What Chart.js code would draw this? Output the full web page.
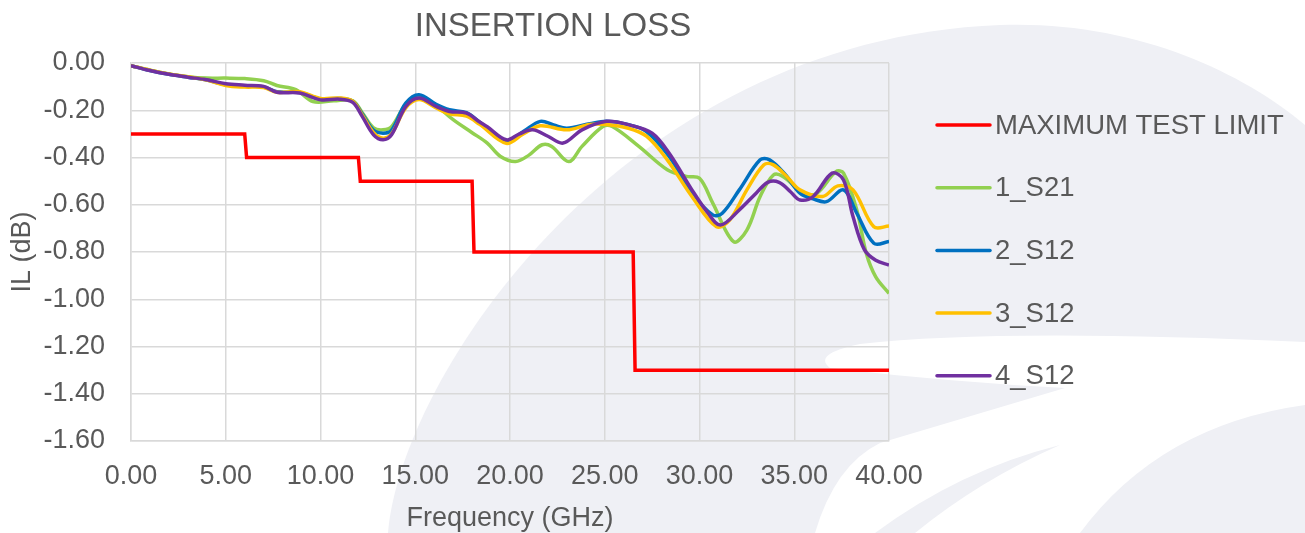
<!DOCTYPE html>
<html>
<head>
<meta charset="utf-8">
<script src="https://cdn.jsdelivr.net/npm/chart.js@4.4.1/dist/chart.umd.min.js"></script>
<style>
  html, body { margin: 0; padding: 0; background: #ffffff; }
  #wrap { width: 1305px; height: 533px; position: relative; }
</style>
</head>
<body>
<div id="wrap"><canvas id="ilChart" width="1305" height="533"></canvas></div>
<script>
'use strict';

// Chart title and series labels
const chartTitle = 'INSERTION LOSS';
const seriesLabels = ['MAXIMUM TEST LIMIT', '1_S21', '2_S12', '3_S12', '4_S12'];

// Test limit (GHz / dB)
const limitFreq = [0, 6.0, 6.1, 12.0, 12.1, 18.0, 18.1, 26.5, 26.6, 40];
const limitIL = [-0.30, -0.30, -0.40, -0.40, -0.50, -0.50, -0.80, -0.80, -1.30, -1.30];

// 1_S21
const s21Freq = [0, 1, 2, 3, 4, 5, 6, 7, 7.7, 8.7, 9.6, 10.7, 11.7, 12.2, 12.8, 13.3, 13.75, 14.5, 15.2, 16.1, 17.0, 18.0, 18.8, 19.5, 20.3, 21.0, 21.7, 22.2, 23.1, 23.8, 24.9, 25.4, 26.8, 28.3, 29.3, 30.0, 30.7, 31.8, 32.5, 33.2, 33.9, 34.4, 35.5, 36.2, 37.2, 37.6, 38.3, 38.8, 39.3, 40];
const s21IL = [-0.011, -0.030, -0.046, -0.058, -0.064, -0.064, -0.066, -0.075, -0.095, -0.113, -0.163, -0.160, -0.160, -0.210, -0.275, -0.283, -0.270, -0.175, -0.140, -0.180, -0.240, -0.295, -0.339, -0.396, -0.417, -0.390, -0.346, -0.353, -0.417, -0.353, -0.269, -0.269, -0.353, -0.452, -0.480, -0.488, -0.593, -0.756, -0.707, -0.565, -0.474, -0.480, -0.551, -0.551, -0.460, -0.466, -0.622, -0.805, -0.905, -0.975];

// 2_S12
const s12aFreq = [0, 1, 2, 3, 4, 5, 6, 7, 7.7, 8.9, 10, 11, 11.7, 12.2, 12.8, 13.3, 13.75, 14.5, 15.2, 16.1, 16.8, 17.7, 18.4, 19.8, 20.7, 21.6, 22.3, 23.0, 24.2, 25.1, 26.2, 27.2, 28.4, 29.6, 30.7, 31.2, 32.1, 33.2, 33.7, 34.5, 35.3, 36.0, 36.7, 37.6, 38.3, 39.2, 40];
const s12aIL = [-0.011, -0.032, -0.048, -0.060, -0.072, -0.092, -0.098, -0.102, -0.122, -0.125, -0.152, -0.150, -0.162, -0.215, -0.285, -0.297, -0.285, -0.170, -0.134, -0.175, -0.198, -0.210, -0.250, -0.330, -0.290, -0.247, -0.262, -0.276, -0.257, -0.247, -0.260, -0.290, -0.396, -0.550, -0.643, -0.636, -0.537, -0.410, -0.410, -0.470, -0.551, -0.575, -0.587, -0.537, -0.636, -0.763, -0.756];

// 3_S12
const s12bFreq = [0, 1, 2, 3, 4, 5, 6, 7, 7.7, 8.9, 10, 11, 11.7, 12.2, 12.8, 13.3, 13.75, 14.5, 15.2, 16.1, 16.8, 17.7, 18.4, 19.8, 20.7, 21.6, 23.0, 24.2, 25.1, 26.2, 27.2, 28.3, 29.6, 30.9, 31.6, 32.5, 33.4, 33.9, 34.6, 35.3, 36.5, 37.3, 38.1, 39.2, 40];
const s12bIL = [-0.011, -0.030, -0.046, -0.058, -0.072, -0.095, -0.102, -0.104, -0.124, -0.122, -0.150, -0.148, -0.162, -0.220, -0.295, -0.318, -0.300, -0.190, -0.155, -0.190, -0.215, -0.225, -0.260, -0.340, -0.300, -0.266, -0.283, -0.260, -0.260, -0.275, -0.310, -0.410, -0.565, -0.693, -0.664, -0.537, -0.431, -0.431, -0.480, -0.537, -0.565, -0.520, -0.537, -0.693, -0.690];

// 4_S12
const s12cFreq = [0, 1, 2, 3, 4, 5, 6, 7, 7.7, 8.9, 10, 11, 11.7, 12.2, 12.8, 13.3, 13.75, 14.5, 15.2, 16.1, 16.8, 17.7, 18.4, 18.8, 19.8, 20.5, 21.2, 22.0, 22.8, 23.8, 25.1, 26.3, 27.5, 28.4, 29.6, 30.4, 31.1, 32.1, 33.0, 33.6, 34.2, 34.8, 35.3, 36.0, 37.0, 37.6, 38.1, 38.7, 39.3, 40];
const s12cIL = [-0.011, -0.032, -0.048, -0.060, -0.071, -0.088, -0.094, -0.099, -0.124, -0.127, -0.156, -0.153, -0.167, -0.226, -0.304, -0.325, -0.304, -0.184, -0.148, -0.184, -0.205, -0.212, -0.250, -0.270, -0.325, -0.300, -0.283, -0.310, -0.339, -0.283, -0.247, -0.262, -0.297, -0.382, -0.537, -0.630, -0.686, -0.622, -0.550, -0.505, -0.505, -0.545, -0.580, -0.565, -0.466, -0.495, -0.650, -0.790, -0.835, -0.855];

// Axis ticks
const xTicks = [0, 5, 10, 15, 20, 25, 30, 35, 40];
const yTicks = [0, -0.2, -0.4, -0.6, -0.8, -1.0, -1.2, -1.4, -1.6];

(function () {
    const redColor = '#FF0000',
        greenColor = '#92D050',
        blueColor = '#0070C0',
        yellowColor = '#FFC000',
        purpleColor = '#7030A0',
        textColor = '#595959',
        gridColor = '#D9D9D9',
        markColor = '#EFF0F5';

    const fontFamily = '"Liberation Sans", Arial, sans-serif';

    function toPoints(xs, ys) {
        return xs.map(function (x, i) { return { x: x, y: ys[i] }; });
    }

    // light watermark behind the chart
    const watermark = {
        id: 'watermark',
        beforeDraw(chart) {
            const ctx = chart.ctx;
            ctx.save();
            ctx.fillStyle = '#ffffff';
            ctx.fillRect(0, 0, chart.width, chart.height);
            ctx.fillStyle = markColor;
            ctx.beginPath();
            ctx.moveTo(388, 533);
            ctx.bezierCurveTo(400, 380, 620, 40, 1000, 25);
            ctx.bezierCurveTo(1130, 20, 1240, 70, 1305, 125);
            ctx.lineTo(1305, 533);
            ctx.closePath();
            ctx.fill();

            // white swoosh cut through the lower right
            ctx.fillStyle = '#ffffff';
            ctx.beginPath();
            ctx.moveTo(1305, 342);
            ctx.quadraticCurveTo(1000, 328, 860, 344);
            ctx.quadraticCurveTo(812, 354, 830, 368);
            ctx.quadraticCurveTo(950, 382, 1065, 388);
            ctx.lineTo(880, 443);
            ctx.quadraticCurveTo(835, 465, 815, 533);
            ctx.lineTo(1080, 533);
            ctx.quadraticCurveTo(1160, 425, 1305, 405);
            ctx.closePath();
            ctx.fill();

            // thin grey sliver inside the swoosh
            ctx.fillStyle = markColor;
            ctx.beginPath();
            ctx.moveTo(1060, 445);
            ctx.quadraticCurveTo(960, 470, 875, 533);
            ctx.lineTo(915, 533);
            ctx.quadraticCurveTo(980, 480, 1060, 445);
            ctx.closePath();
            ctx.fill();
            ctx.restore();
        }
    };

    // title and legend drawn around the plot
    const sideTexts = {
        id: 'sideTexts',
        afterDraw(chart) {
            const ctx = chart.ctx;
            const top = 125, step = 62.7;
            ctx.save();
            ctx.fillStyle = textColor;
            ctx.font = '33px ' + fontFamily;
            ctx.textBaseline = 'middle';
            ctx.textAlign = 'center';
            ctx.fillText(chartTitle, 553, 27);

            ctx.font = '27.5px ' + fontFamily;
            ctx.textAlign = 'left';
            seriesLabels.forEach(function (label, i) {
                const ds = chart.data.datasets.find(function (d) { return d.label === label; });
                const y = top + i * step;
                ctx.strokeStyle = ds.borderColor;
                ctx.lineWidth = 3.5;
                ctx.lineCap = 'round';
                ctx.beginPath();
                ctx.moveTo(937, y);
                ctx.lineTo(990, y);
                ctx.stroke();
                ctx.fillStyle = textColor;
                ctx.fillText(label, 995, y + 1);
            });
            ctx.restore();
        }
    };

    const lineStyle = {
        borderWidth: 3.5,
        pointRadius: 0,
        pointHoverRadius: 0,
        fill: false,
        tension: 0.35
    };

    const ilChart = document.getElementById('ilChart');
    new Chart(ilChart, {
        type: 'line',
        data: {
            datasets: [
                Object.assign({ label: seriesLabels[0], data: toPoints(limitFreq, limitIL), borderColor: redColor, order: 5 }, lineStyle, { tension: 0 }),
                Object.assign({ label: seriesLabels[1], data: toPoints(s21Freq, s21IL), borderColor: greenColor, order: 4 }, lineStyle),
                Object.assign({ label: seriesLabels[2], data: toPoints(s12aFreq, s12aIL), borderColor: blueColor, order: 3 }, lineStyle),
                Object.assign({ label: seriesLabels[3], data: toPoints(s12bFreq, s12bIL), borderColor: yellowColor, order: 2 }, lineStyle),
                Object.assign({ label: seriesLabels[4], data: toPoints(s12cFreq, s12cIL), borderColor: purpleColor, order: 1 }, lineStyle)
            ]
        },
        options: {
            responsive: false,
            animation: false,
            layout: {
                padding: { left: 0, top: 63, right: 416, bottom: 0 }
            },
            plugins: {
                legend: { display: false },
                tooltip: { enabled: false },
                title: { display: false }
            },
            scales: {
                x: {
                    type: 'linear',
                    min: 0,
                    max: 40,
                    afterFit(scale) { scale.height = 92; },
                    afterBuildTicks(scale) { scale.ticks = xTicks.map(function (v) { return { value: v }; }); },
                    grid: { color: gridColor, lineWidth: 1.5, drawTicks: false },
                    border: { color: gridColor, width: 1.5 },
                    ticks: {
                        color: textColor,
                        padding: 19,
                        maxRotation: 0,
                        font: { family: fontFamily, size: 27 },
                        callback: function (v) { return Number(v).toFixed(2); }
                    },
                    title: {
                        display: true,
                        text: 'Frequency (GHz)',
                        color: textColor,
                        font: { family: fontFamily, size: 27, lineHeight: 1.1 },
                        padding: { top: 0, bottom: 0 }
                    }
                },
                y: {
                    min: -1.6,
                    max: 0,
                    afterFit(scale) { scale.width = 131; },
                    afterBuildTicks(scale) { scale.ticks = yTicks.map(function (v) { return { value: v }; }); },
                    grid: { color: gridColor, lineWidth: 1.5, drawTicks: false },
                    border: { color: gridColor, width: 1.5 },
                    ticks: {
                        color: textColor,
                        padding: 26,
                        font: { family: fontFamily, size: 27 },
                        callback: function (v) { return (Math.round(v * 100) / 100).toFixed(2); }
                    },
                    title: {
                        display: true,
                        text: 'IL (dB)',
                        color: textColor,
                        font: { family: fontFamily, size: 27 },
                        padding: { top: 6, bottom: 0 }
                    }
                }
            }
        },
        plugins: [watermark, sideTexts]
    });
})();
</script>
</body>
</html>
